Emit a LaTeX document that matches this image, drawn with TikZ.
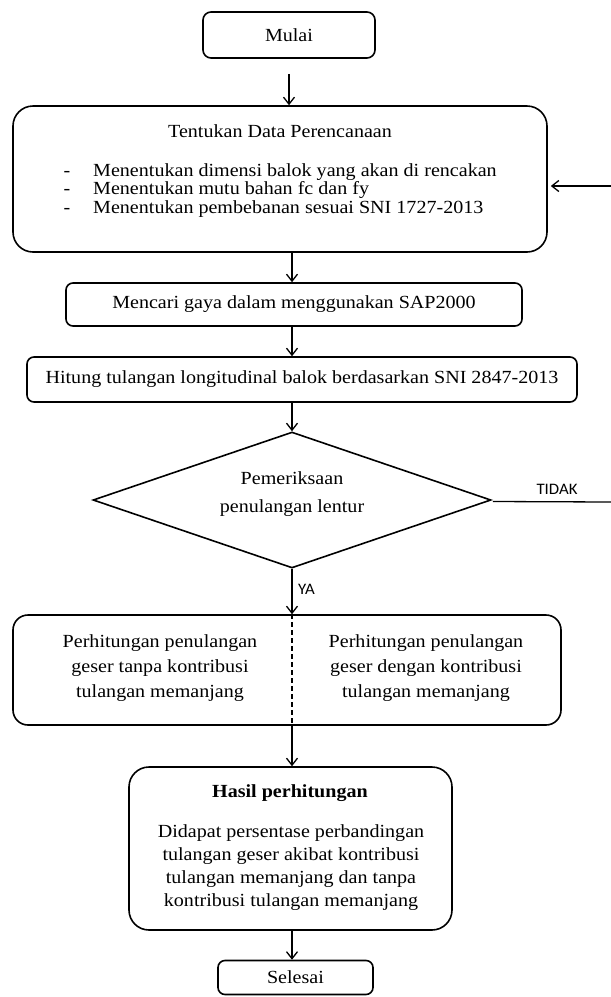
\documentclass[tikz,border=0pt]{standalone}
\usepackage{fontspec}
\setmainfont[FakeStretch=1.085]{Liberation Serif}
\newfontfamily\lblfont[FakeStretch=1.05]{Carlito}
\usetikzlibrary{shapes.geometric,arrows.meta}
\begin{document}
\begin{tikzpicture}[x=1pt,y=-1pt,
  box/.style={draw, line width=1.6pt, rounded corners=8pt, inner sep=0pt},
  arr/.style={line width=1.3pt, -{Straight Barb[length=7pt,width=11pt,line width=1.3pt]}},
  txt/.style={font=\fontsize{18.5}{19}\selectfont, inner sep=0pt},
  lbl/.style={font=\lblfont\fontsize{16}{17}\selectfont, inner sep=0pt}]
\useasboundingbox (0,0) rectangle (611,997);
\coordinate (ax) at (292,0);
% Mulai
\node[box, txt, minimum width=172pt, minimum height=46pt] (mulai) at (289,35) {Mulai};
% Tentukan
\node[box, rounded corners=20pt, minimum width=534pt, minimum height=146pt] (tentukan) at (280,179) {};
\node[txt, anchor=base] (t0) at (280,137) {Tentukan Data Perencanaan};
\node[txt, anchor=base] (d1) at (67,176) {-};
\node[txt, anchor=base] (d2) at (67,194.5) {-};
\node[txt, anchor=base] (d3) at (67,213) {-};
\node[txt, anchor=base west] (b1) at (93,176) {Menentukan dimensi balok yang akan di rencakan};
\node[txt, anchor=base west] (b2) at (93,194.5) {Menentukan mutu bahan fc dan fy};
\node[txt, anchor=base west] (b3) at (93,213) {Menentukan pembebanan sesuai SNI 1727-2013};
% Mencari
\node[box, txt, rounded corners=7pt, minimum width=456pt, minimum height=43pt] (mencari) at (294,304.5) {Mencari gaya dalam menggunakan SAP2000};
% Hitung
\node[box, txt, rounded corners=7pt, minimum width=550pt, minimum height=45pt] (hitung) at (302,379.5) {Hitung tulangan longitudinal balok berdasarkan SNI 2847-2013};
% Diamond
\node[draw, diamond, line width=1.6pt, minimum width=398pt, minimum height=136pt, inner sep=0pt] (dia) at (292,500) {};
\node[txt, align=center, font=\fontsize{18.5}{28}\selectfont] (diat) at (292,494) {Pemeriksaan\\penulangan lentur};
% Perhitungan
\node[box, rounded corners=15pt, minimum width=548pt, minimum height=110pt] (perh) at (287,670) {};
\node[txt, align=center, font=\fontsize{18.5}{25}\selectfont] (pl) at (160,668) {Perhitungan penulangan\\geser tanpa kontribusi\\tulangan memanjang};
\node[txt, align=center, font=\fontsize{18.5}{25}\selectfont] (pr) at (426,668) {Perhitungan penulangan\\geser dengan kontribusi\\tulangan memanjang};
% Hasil
\node[box, rounded corners=20pt, minimum width=323pt, minimum height=163pt] (hasil) at (290.5,848.5) {};
\node[txt, font=\fontsize{18.5}{19}\selectfont\bfseries] (ht) at (290,793) {Hasil perhitungan};
\node[txt, align=center, font=\fontsize{18.5}{23}\selectfont] (hb) at (291,868) {Didapat persentase perbandingan\\tulangan geser akibat kontribusi\\tulangan memanjang dan tanpa\\kontribusi tulangan memanjang};
% Selesai
\node[box, txt, rounded corners=7pt, minimum width=155pt, minimum height=34pt] (selesai) at (295.5,977.5) {Selesai};
% Labels
\node[lbl] (tidak) at (557,489) {TIDAK};
\node[lbl, anchor=west] (ya) at (298,589) {YA};
% Connectors
\draw[arr, shorten <=15pt] (mulai.south) -- (mulai.south |- tentukan.north);
\draw[arr] (ax |- tentukan.south) -- (ax |- mencari.north);
\draw[arr] (ax |- mencari.south) -- (ax |- hitung.north);
\draw[arr] (ax |- hitung.south) -- (dia.north);
\draw[arr] (dia.south) -- (ax |- perh.north);
\draw[dashed, line width=1.2pt, dash pattern=on 5pt off 3pt] (ax |- perh.north) -- (ax |- perh.south);
\draw[arr] (ax |- perh.south) -- (ax |- hasil.north);
\draw[arr] (ax |- hasil.south) -- (ax |- selesai.north);
\coordinate (rout) at (611,502);
\draw[line width=1.3pt] (dia.east) ++(1,1.5) -- (rout);
\coordinate (rin) at (611,186);
\draw[arr, shorten >=3pt] (rin) -- (rin -| tentukan.east);
\end{tikzpicture}
\end{document}
